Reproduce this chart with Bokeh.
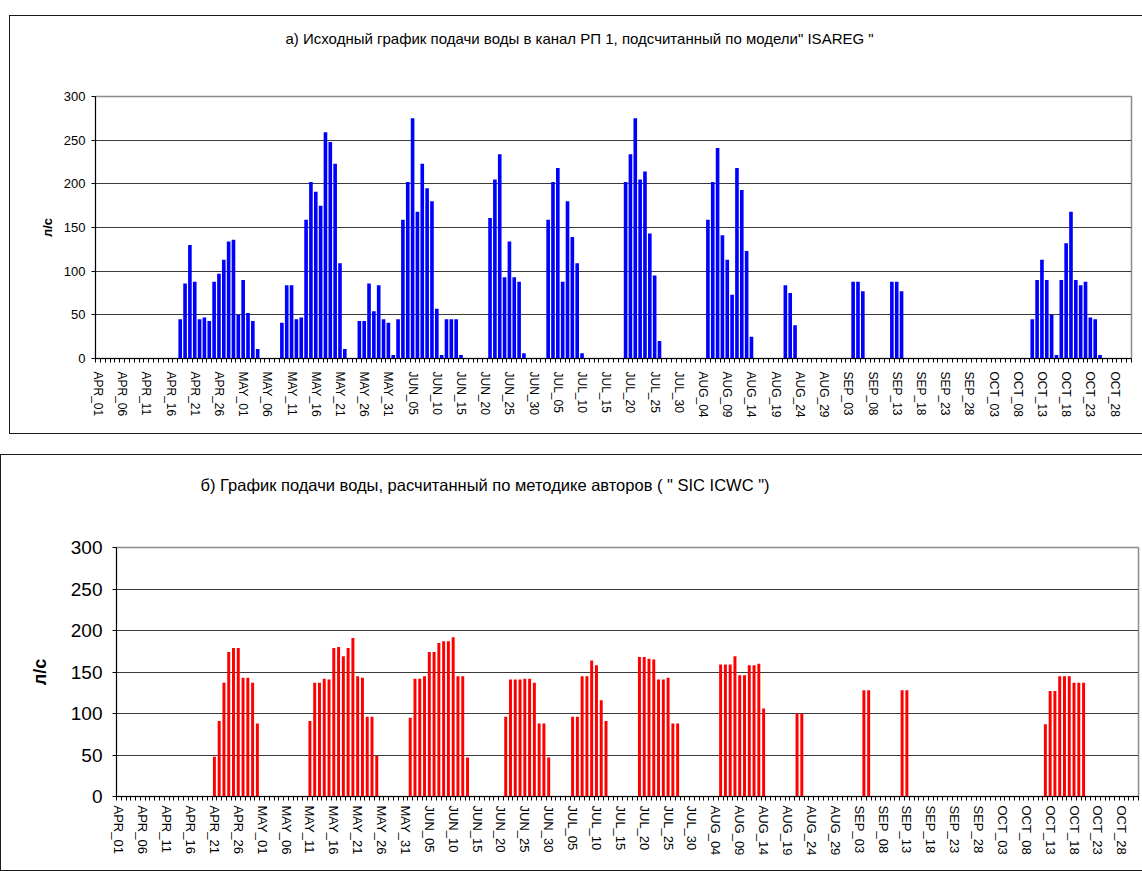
from bokeh.plotting import figure
from bokeh.models import Range1d, FixedTicker, Title
from bokeh.embed import file_html
from bokeh.resources import INLINE

# ---------------- data ----------------
tick_labels = ["APR_01", "APR_06", "APR_11", "APR_16", "APR_21", "APR_26",
               "MAY_01", "MAY_06", "MAY_11", "MAY_16", "MAY_21", "MAY_26", "MAY_31",
               "JUN_05", "JUN_10", "JUN_15", "JUN_20", "JUN_25", "JUN_30",
               "JUL_05", "JUL_10", "JUL_15", "JUL_20", "JUL_25", "JUL_30",
               "AUG_04", "AUG_09", "AUG_14", "AUG_19", "AUG_24", "AUG_29",
               "SEP_03", "SEP_08", "SEP_13", "SEP_18", "SEP_23", "SEP_28",
               "OCT_03", "OCT_08", "OCT_13", "OCT_18", "OCT_23", "OCT_28"]
y_ticks = [0, 50, 100, 150, 200, 250, 300]

# a) ISAREG model, l/s, daily Apr 1 .. Oct 31
isareg_apr = [0, 0, 0, 0, 0, 0, 0, 0, 0, 0, 0, 0, 0, 0, 0, 0, 0,
              45, 86, 130, 88, 45, 47, 43, 88, 97, 113, 134, 136, 50]
isareg_may = [90, 52, 43, 11, 0, 0, 0, 0, 41, 84, 84, 45, 47, 159, 202, 191,
              175, 259, 248, 223, 109, 11, 0, 0, 43, 43, 86, 54, 84, 45, 41]
isareg_jun = [4, 45, 159, 202, 275, 168, 223, 195, 180, 57, 4, 45, 45, 45, 4,
              0, 0, 0, 0, 0, 161, 205, 234, 93, 134, 93, 88, 6, 0, 0]
isareg_jul = [0, 0, 159, 202, 218, 88, 180, 139, 109, 6, 0, 0, 0, 0, 0, 0,
              0, 0, 202, 234, 275, 205, 214, 143, 95, 20, 0, 0, 0, 0, 0]
isareg_aug = [0, 0, 0, 0, 159, 202, 241, 141, 113, 73, 218, 193, 123, 25, 0, 0,
              0, 0, 0, 0, 84, 75, 38, 0, 0, 0, 0, 0, 0, 0, 0]
isareg_sep = [0, 0, 0, 88, 88, 77, 0, 0, 0, 0, 0, 88, 88, 77, 0,
              0, 0, 0, 0, 0, 0, 0, 0, 0, 0, 0, 0, 0, 0, 0]
isareg_oct = [0, 0, 0, 0, 0, 0, 0, 0, 0, 0, 45, 90, 113, 90, 50, 4,
              90, 132, 168, 90, 84, 88, 47, 45, 4, 0, 0, 0, 0, 0, 0]

# b) SIC ICWC method, l/s, daily Apr 1 .. Oct 31
sic_apr = [0, 0, 0, 0, 0, 0, 0, 0, 0, 0, 0, 0, 0, 0, 0, 0, 0, 0, 0, 0,
           48, 91, 137, 174, 179, 179, 143, 143, 137, 88]
sic_may = [0, 0, 0, 0, 0, 0, 0, 0, 0, 0, 91, 137, 137, 142, 141, 179,
           180, 169, 179, 191, 145, 143, 96, 96, 49, 0, 0, 0, 0, 0, 0]
sic_jun = [95, 142, 142, 145, 174, 174, 185, 187, 187, 192, 145, 145, 47, 0, 0,
           0, 0, 0, 0, 0, 96, 141, 141, 141, 142, 142, 137, 88, 88, 47]
sic_jul = [0, 0, 0, 0, 96, 96, 145, 145, 164, 158, 116, 91, 0, 0, 0, 0,
           0, 0, 168, 168, 166, 165, 141, 141, 143, 88, 88, 0, 0, 0, 0]
sic_aug = [0, 0, 0, 0, 159, 159, 159, 169, 146, 146, 158, 158, 160, 106, 0, 0,
           0, 0, 0, 0, 100, 100, 0, 0, 0, 0, 0, 0, 0, 0, 0]
sic_sep = [0, 0, 0, 128, 128, 0, 0, 0, 0, 0, 0, 128, 128, 0, 0,
           0, 0, 0, 0, 0, 0, 0, 0, 0, 0, 0, 0, 0, 0, 0]
sic_oct = [0, 0, 0, 0, 0, 0, 0, 0, 0, 0, 0, 87, 127, 127, 145, 145,
           145, 137, 137, 137, 0, 0, 0, 0, 0, 0, 0, 0, 0, 0, 0]

isareg = isareg_apr + isareg_may + isareg_jun + isareg_jul + isareg_aug + isareg_sep + isareg_oct
sic_icwc = sic_apr + sic_may + sic_jun + sic_jul + sic_aug + sic_sep + sic_oct

title_a = "а) Исходный график подачи воды в канал РП 1, подсчитанный  по модели\" ISAREG \""
title_b = "б)  График подачи воды, расчитанный по методике авторов ( \" SIC ICWC \")"
y_label = "л/с"

n_days = len(isareg)
x_pos = [i + 0.5 for i in range(n_days)]
label_pos = [i * 5 + 0.5 for i in range(len(tick_labels))]
FONT = "Liberation Sans"


def box_lines(left, top, bottom, full_w):
    g = "linear-gradient(#1a1a1a,#1a1a1a)"
    parts = [f"{g} {left}px {top}px / 1px {bottom - top + 1}px no-repeat",
             f"{g} {left}px {top}px / {full_w}px 1px no-repeat",
             f"{g} {left}px {bottom}px / {full_w}px 1px no-repeat"]
    return ", ".join(parts)


def make_fig(values, color, bar_w, width, height, borders, bg, title,
             title_size, title_offset, title_gap, ytick_size, ytick_standoff,
             xlab_size, xlab_standoff, ylab_size, ylab_standoff):
    p = figure(width=width, height=height, output_backend="svg", toolbar_location=None,
               title=None,
               x_range=Range1d(0, n_days), y_range=Range1d(0, 300),
               min_border_left=borders[0], min_border_right=borders[1],
               min_border_top=borders[2], min_border_bottom=borders[3])
    p.border_fill_color = None
    p.background_fill_color = "white"
    p.outline_line_color = "#8c8c8c"
    p.outline_line_width = 1.5
    p.styles = {"background": bg}

    p.vbar(x=x_pos, top=values, width=bar_w, fill_color=color, line_color=None)

    # spacer (closest to the frame) pushes the real title upward
    p.add_layout(Title(text=" ", text_font_size="1px", standoff=title_gap), "above")
    p.add_layout(Title(text=title, align="left", offset=title_offset, standoff=0,
                       text_font=FONT, text_font_style="normal",
                       text_font_size=title_size, text_color="black"), "above")

    p.xgrid.visible = False
    p.ygrid.grid_line_color = "#3a3a3a"
    p.ygrid.grid_line_width = 1
    p.ygrid.ticker = FixedTicker(ticks=y_ticks)

    ya = p.yaxis[0]
    ya.ticker = FixedTicker(ticks=y_ticks)
    ya.axis_line_color = "black"
    ya.major_tick_line_color = "black"
    ya.major_tick_out = 4
    ya.major_tick_in = 0
    ya.minor_tick_line_color = None
    ya.major_label_text_font = FONT
    ya.major_label_text_font_size = ytick_size
    ya.major_label_text_color = "black"
    ya.major_label_standoff = ytick_standoff
    ya.axis_label = y_label
    ya.axis_label_text_font = FONT
    ya.axis_label_text_font_style = "bold"
    ya.axis_label_text_font_size = ylab_size
    ya.axis_label_text_color = "black"
    ya.axis_label_standoff = ylab_standoff

    xa = p.xaxis[0]
    xa.ticker = FixedTicker(ticks=label_pos, minor_ticks=list(range(n_days + 1)))
    xa.major_label_overrides = {pos: lab for pos, lab in zip(label_pos, tick_labels)}
    xa.axis_line_color = "black"
    xa.major_tick_out = 0
    xa.major_tick_in = 0
    xa.minor_tick_out = 4
    xa.minor_tick_in = 0
    xa.minor_tick_line_color = "black"
    xa.major_label_orientation = "vertical"
    xa.major_label_standoff = xlab_standoff
    xa.major_label_text_font = FONT
    xa.major_label_text_font_size = xlab_size
    xa.major_label_text_color = "black"
    return p


# frame of a): x 95..1131, y 96..358 ; frame of b): x 116..1138, y 547..796
p1 = make_fig(isareg, "#0000ff", 0.75, 1142, 444, (95, 11, 96, 86),
              box_lines(9, 15, 433, 1133),
              title_a, "15px", 190, 47, "13px", 6, "12px", 9, "13px", 6)
p2 = make_fig(sic_icwc, "#ff0000", 0.62, 1142, 427, (116, 4, 103, 75),
              box_lines(0, 10, 426, 1142),
              title_b, "16.5px", 84, 51, "19px", 10, "13px", 5, "18px", 18)

open("out.html", "w").write(file_html([p1, p2], INLINE))
